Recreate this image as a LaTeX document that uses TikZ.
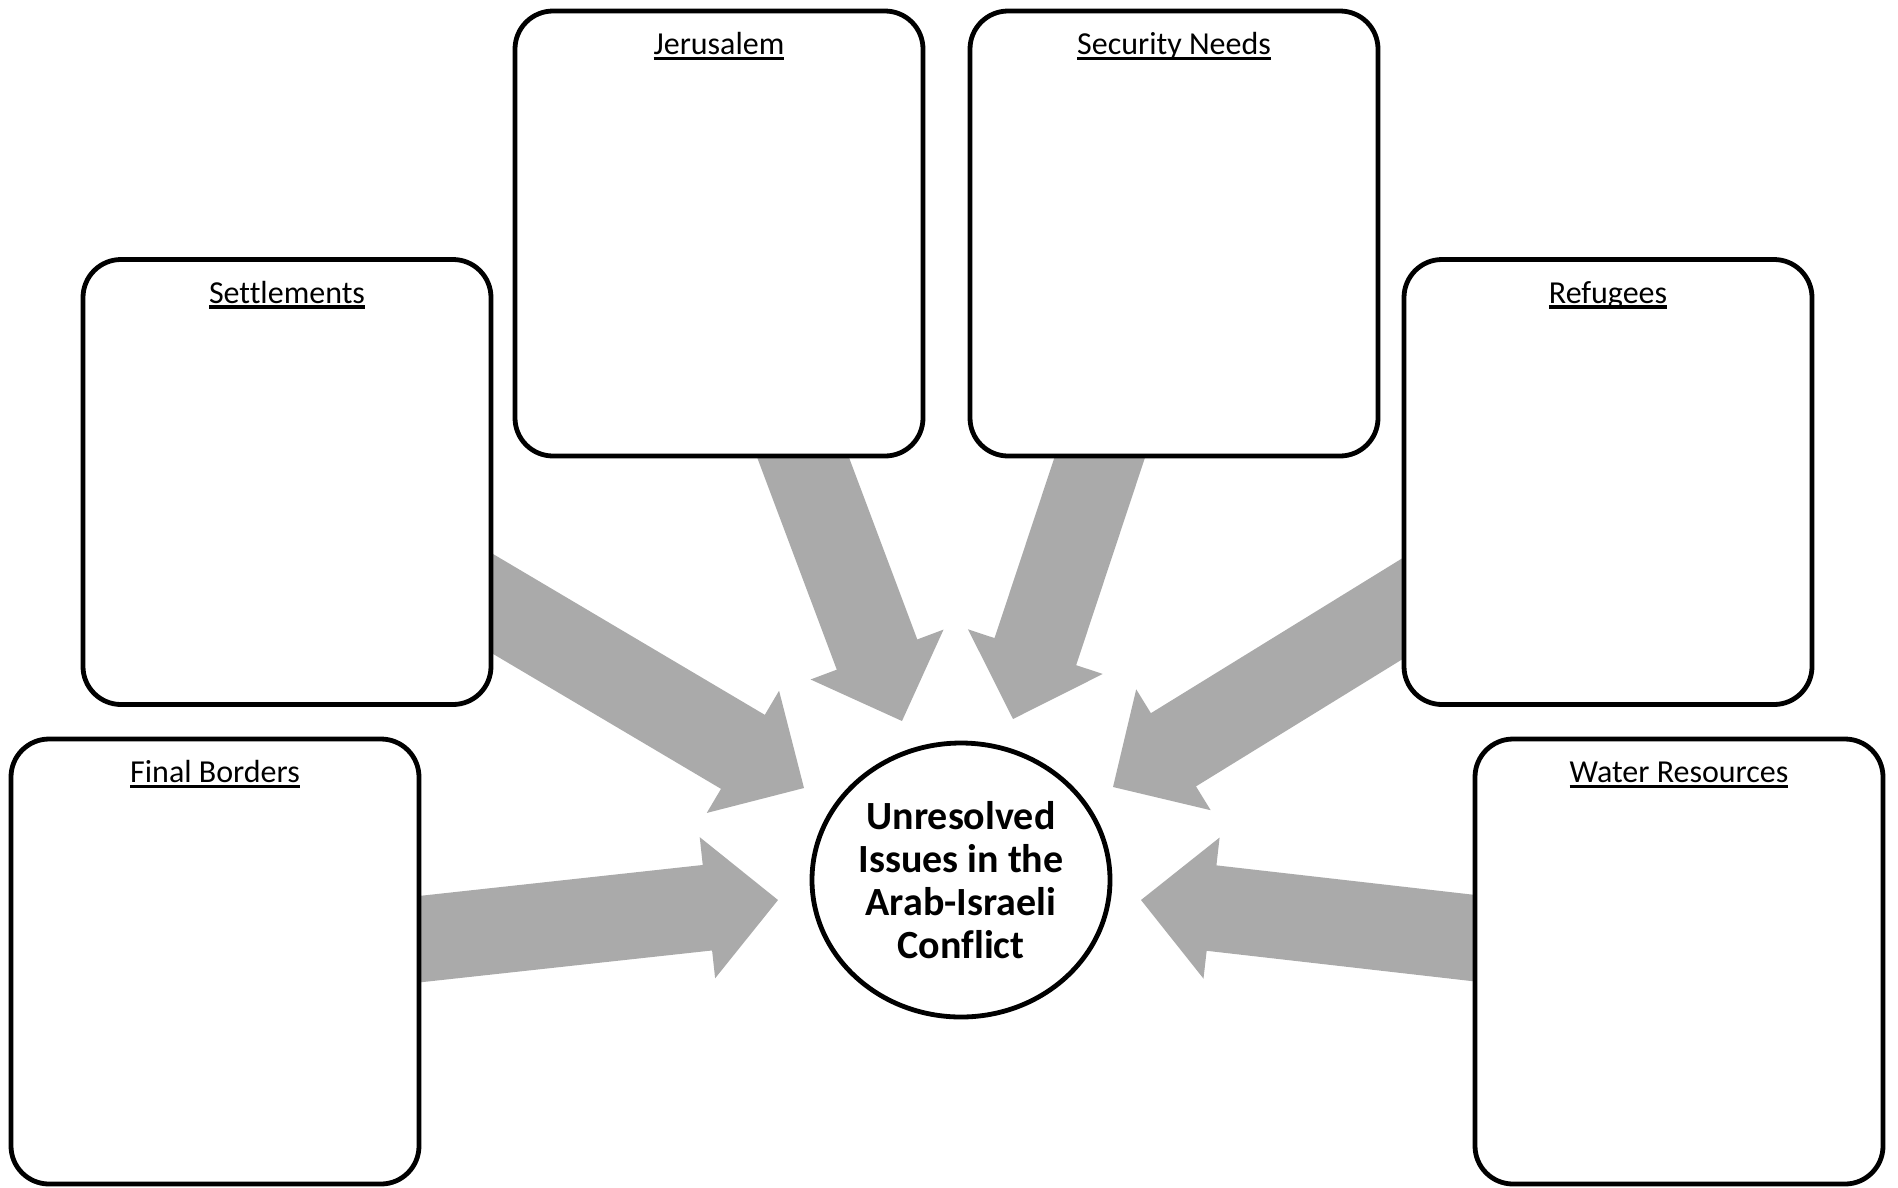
\documentclass[tikz,border=0pt]{standalone}
\usepackage{fontspec}
\setmainfont[RawFeature={-liga;-clig;-dlig;-calt}]{Carlito}
\usetikzlibrary{calc,shapes.geometric,backgrounds}
\definecolor{shaftgray}{RGB}{170,170,170}
\newcommand{\ulabel}[1]{\setbox0\hbox{#1}\rlap{\rule[-5.7pt]{\wd0}{3.4pt}}\box0}
\tikzset{
	issuebox/.style={draw, line width=4.8pt, fill=white, rounded corners=38pt, minimum width=408pt, minimum height=445pt, inner sep=0pt,
		label={[anchor=base, yshift=-46pt, font=\fontsize{32}{38}\selectfont]north:\ulabel{#1}}},
	corebox/.style={draw, ellipse, line width=4.8pt, fill=white, minimum width=298pt, minimum height=274pt, inner sep=0pt, align=center,
		font=\bfseries\fontsize{40}{43}\selectfont}
}
\def\bigarrow(#1)(#2)#3{%
	\coordinate (#3) at ($(#2)!71pt!(#1)$);
	\fill[shaftgray] ($(#1)!43pt!90:(#2)$) -- ($(#3)!43pt!90:(#2)$) -- ($(#3)!71pt!90:(#2)$) -- (#2)
		-- ($(#3)!71pt!-90:(#2)$) -- ($(#3)!43pt!-90:(#2)$) -- ($(#1)!43pt!-90:(#2)$) -- cycle;}

\begin{document}
\begin{tikzpicture}[x=1pt, y=-1pt]
		%%%%% START %%%%%
		\useasboundingbox (0, 0) rectangle (1898, 1187);
		
		\node[issuebox=Jerusalem] (jer) at (719, 233.5) {};
		\node[issuebox=Security Needs] (sec) at (1174, 233.5) {};
		\node[issuebox=Settlements] (set) at (287, 482) {};
		\node[issuebox=Refugees] (ref) at (1608, 482) {};
		\node[issuebox=Final Borders] (fb) at (215, 961.5) {};
		\node[issuebox=Water Resources] (wr) at (1679, 961.5) {};
		
		\node[corebox] (issue) at (961, 880) {Unresolved\\Issues in the\\Arab-Israeli\\Conflict};
		
		\coordinate (jer-tip) at (902, 721);
		\coordinate (sec-tip) at (1013, 719);
		\coordinate (set-tip) at (804, 788);
		\coordinate (ref-tip) at (1113, 787);
		\coordinate (fb-tip) at (778, 900);
		\coordinate (wr-tip) at (1141, 900);
		
		\begin{scope}[on background layer]
			\bigarrow(jer)(jer-tip){jer-c}
			\bigarrow(sec)(sec-tip){sec-c}
			\bigarrow(set)(set-tip){set-c}
			\bigarrow(ref)(ref-tip){ref-c}
			\bigarrow(fb)(fb-tip){fb-c}
			\bigarrow(wr)(wr-tip){wr-c}
		\end{scope}
		
		%%%%% END %%%%%
	\end{tikzpicture}
\end{document}
